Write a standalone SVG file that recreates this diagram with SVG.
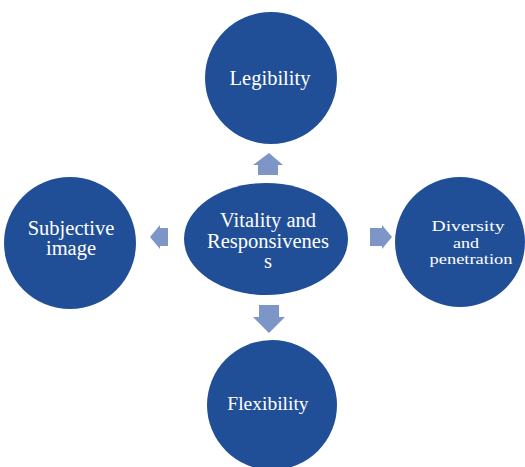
<svg xmlns="http://www.w3.org/2000/svg" width="525" height="467" viewBox="0 0 525 467">
  <style>
    .node { fill: #214f97; }
    .label { fill: #ffffff; font-family: "Liberation Serif", "Times New Roman", serif; text-anchor: middle; }
    .arrow { fill: #7d95c7; }
  </style>
  <rect width="525" height="467" fill="#ffffff"/>

  <g id="connectors">
    <!-- up -->
    <path class="arrow" d="M258,175 L258,165 L253,165 L269,153 L283,165 L278,165 L278,175 Z"/>
    <!-- down -->
    <path class="arrow" d="M259,305 L279,305 L279,317 L285,317 L269,333 L253,317 L259,317 Z"/>
    <!-- left -->
    <path class="arrow" d="M168,228 L160,228 L160,225 L150,237 L160,249 L160,246 L168,246 Z"/>
    <!-- right -->
    <path class="arrow" d="M370,228 L382,228 L382,225 L392,237 L382,249 L382,246 L370,246 Z"/>
  </g>

  <g id="center">
    <ellipse class="node" cx="266" cy="239" rx="82" ry="56"/>
    <text class="label" font-size="20.5" x="268" y="227">Vitality and</text>
    <text class="label" font-size="20.5" x="268" y="248">Responsivenes</text>
    <text class="label" font-size="20.5" x="268" y="268">s</text>
  </g>

  <g id="legibility">
    <circle class="node" cx="271" cy="78" r="66"/>
    <text class="label" font-size="20.5" x="270" y="85">Legibility</text>
  </g>

  <g id="diversity">
    <circle class="node" cx="460" cy="242" r="65"/>
    <text class="label" font-size="15.5" x="468" y="231" textLength="73" lengthAdjust="spacingAndGlyphs">Diversity</text>
    <text class="label" font-size="15.5" x="466" y="247.5" textLength="26" lengthAdjust="spacingAndGlyphs">and</text>
    <text class="label" font-size="15.5" x="471" y="264" textLength="83" lengthAdjust="spacingAndGlyphs">penetration</text>
  </g>

  <g id="subjective">
    <circle class="node" cx="70" cy="243" r="66"/>
    <text class="label" font-size="20.5" x="71" y="235">Subjective</text>
    <text class="label" font-size="20.5" x="71" y="255">image</text>
  </g>

  <g id="flexibility">
    <circle class="node" cx="272" cy="405" r="65"/>
    <text class="label" font-size="19.5" x="268" y="410">Flexibility</text>
  </g>
</svg>
